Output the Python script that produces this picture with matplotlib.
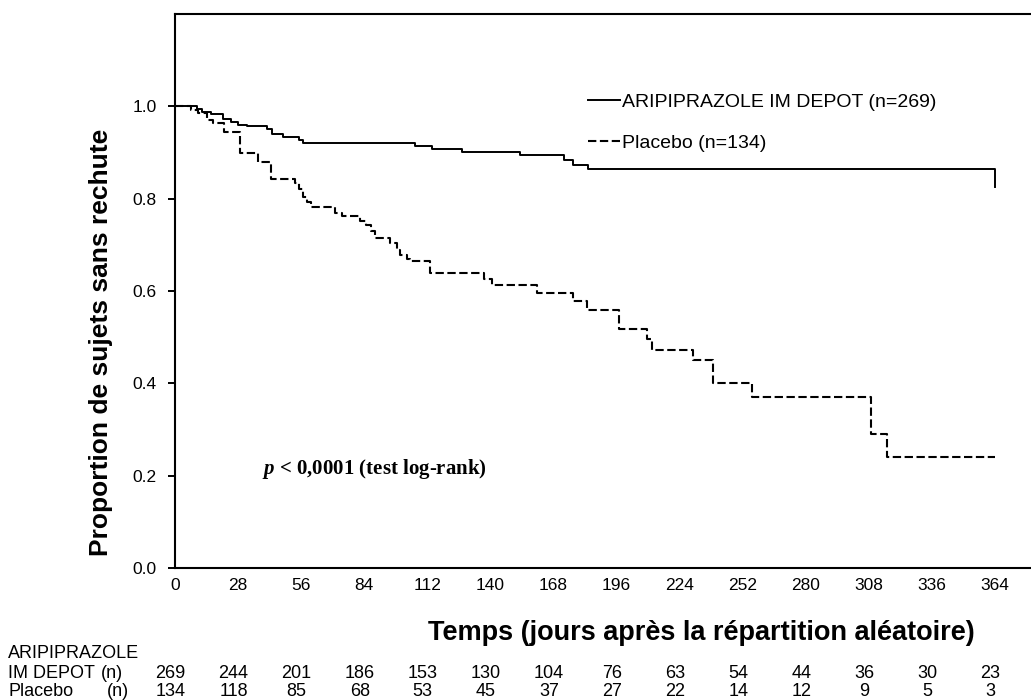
import matplotlib
matplotlib.use("Agg")
import matplotlib.pyplot as plt
import matplotlib.transforms as mtransforms
import numpy as np

# ---------------- data ----------------
ari_label = "ARIPIPRAZOLE IM DEPOT (n=269)"
pla_label = "Placebo (n=134)"

ari_t = [0, 9.6, 12, 16, 21.5, 25, 28, 32, 40.7, 42.9, 48, 55, 57,
         106.5, 114, 127.3, 153, 172.8, 176.8, 183.2, 364]
ari_s = [1.0, 0.995, 0.988, 0.983, 0.973, 0.965, 0.960, 0.957, 0.950, 0.941,
         0.934, 0.928, 0.921, 0.914, 0.908, 0.901, 0.894, 0.883, 0.874, 0.864, 0.825]

pla_t = [0, 7, 10, 14, 17, 21.7, 28.9, 37, 42.6, 53.3, 55, 57, 58.5, 60.5,
         71, 74, 82, 85, 87, 89, 95.4, 98.4, 100, 102.8, 104.3, 113, 137,
         140.6, 160.6, 176.8, 182.8, 197.3, 209.4, 211.8, 230, 239, 256,
         308.8, 315.9, 364]
pla_s = [1.0, 0.993, 0.986, 0.970, 0.963, 0.944, 0.898, 0.879, 0.842, 0.833,
         0.822, 0.804, 0.793, 0.782, 0.768, 0.762, 0.752, 0.742, 0.730, 0.714,
         0.703, 0.688, 0.677, 0.670, 0.665, 0.639, 0.627, 0.613, 0.596, 0.578,
         0.558, 0.517, 0.495, 0.473, 0.450, 0.400, 0.371, 0.290, 0.241, 0.241]

x_ticks = [0, 28, 56, 84, 112, 140, 168, 196, 224, 252, 280, 308, 336, 364]
y_ticks = [0.0, 0.2, 0.4, 0.6, 0.8, 1.0]

ari_risk = [269, 244, 201, 186, 153, 130, 104, 76, 63, 54, 44, 36, 30, 23]
pla_risk = [134, 118, 85, 68, 53, 45, 37, 27, 22, 14, 12, 9, 5, 3]

ylabel = "Proportion de sujets sans rechute"
xlabel = "Temps (jours après la répartition aléatoire)"
ptext = r"$p$ < 0,0001 (test log-rank)"

# ---------------- style ----------------
plt.rcParams["font.family"] = ["Liberation Sans", "DejaVu Sans"]
plt.rcParams["mathtext.fontset"] = "custom"
plt.rcParams["mathtext.it"] = "Liberation Serif:italic:bold"
plt.rcParams["mathtext.rm"] = "Liberation Serif:bold"

W, H = 1031, 700
fig = plt.figure(figsize=(W / 100, H / 100), dpi=100)
ax_left, ax_bottom, ax_top = 175 / W, 1 - 568 / H, 1 - 14 / H
ax = fig.add_axes([ax_left, ax_bottom, 1 - ax_left, ax_top - ax_bottom])

l1, = ax.step(ari_t, ari_s, where="post", color="black", lw=1.4, label=ari_label)
l2, = ax.step(pla_t, pla_s, where="post", color="black", lw=1.5,
              linestyle=(0, (4, 1.7)), label=pla_label)

ax.set_xlim(0, 380)
ax.set_ylim(0, 1.2)
ax.set_xticks(x_ticks)
ax.set_yticks(y_ticks)
ax.set_yticklabels([f"{v:.1f}" for v in y_ticks])
ax.tick_params(axis="x", length=0, pad=7, labelsize=12.5)
ax.tick_params(axis="y", length=5, width=1.4, pad=8, labelsize=12.5, direction="out")
for s in ["left", "bottom", "top"]:
    ax.spines[s].set_linewidth(1.5)
ax.spines["right"].set_visible(False)

leg = ax.legend(handles=[l1, l2], loc="upper left",
                bbox_to_anchor=((588 - 175) / (W - 175), (568 - 93) / 554),
                frameon=False, fontsize=14, handlelength=1.65, handletextpad=0.1,
                labelspacing=1.2, borderpad=0, borderaxespad=0)

ax.text((262 - 175) / (W - 175), (568 - 469) / 554, ptext, transform=ax.transAxes,
        fontsize=15, fontfamily="Liberation Serif", fontweight="bold",
        ha="left", va="center")

fig.text(101 / W, 1 - 342 / H, ylabel, rotation=90, ha="center", va="center",
         fontsize=19, fontweight="bold")
fig.text(701 / W, 1 - 633 / H, xlabel, ha="center", va="center",
         fontsize=19.5, fontweight="bold")

# risk table
tr = mtransforms.blended_transform_factory(ax.transData, fig.transFigure)
y_r0, y_r1, y_r2 = 1 - 654 / H, 1 - 674 / H, 1 - 691 / H
fs_t = 13
fig.text(8 / W, y_r0, "ARIPIPRAZOLE", ha="left", va="center", fontsize=fs_t)
fig.text(8 / W, y_r1, "IM DEPOT", ha="left", va="center", fontsize=fs_t)
fig.text(101 / W, y_r1, "(n)", ha="left", va="center", fontsize=fs_t)
fig.text(8 / W, y_r2, "Placebo", ha="left", va="center", fontsize=fs_t)
fig.text(107 / W, y_r2, "(n)", ha="left", va="center", fontsize=fs_t)
for xt, a, p in zip(x_ticks, ari_risk, pla_risk):
    fig.text(xt - 2, y_r1, str(a), transform=tr, ha="center", va="center", fontsize=13)
    fig.text(xt - 2, y_r2, str(p), transform=tr, ha="center", va="center", fontsize=13)

fig.savefig("out.png", dpi=100)
